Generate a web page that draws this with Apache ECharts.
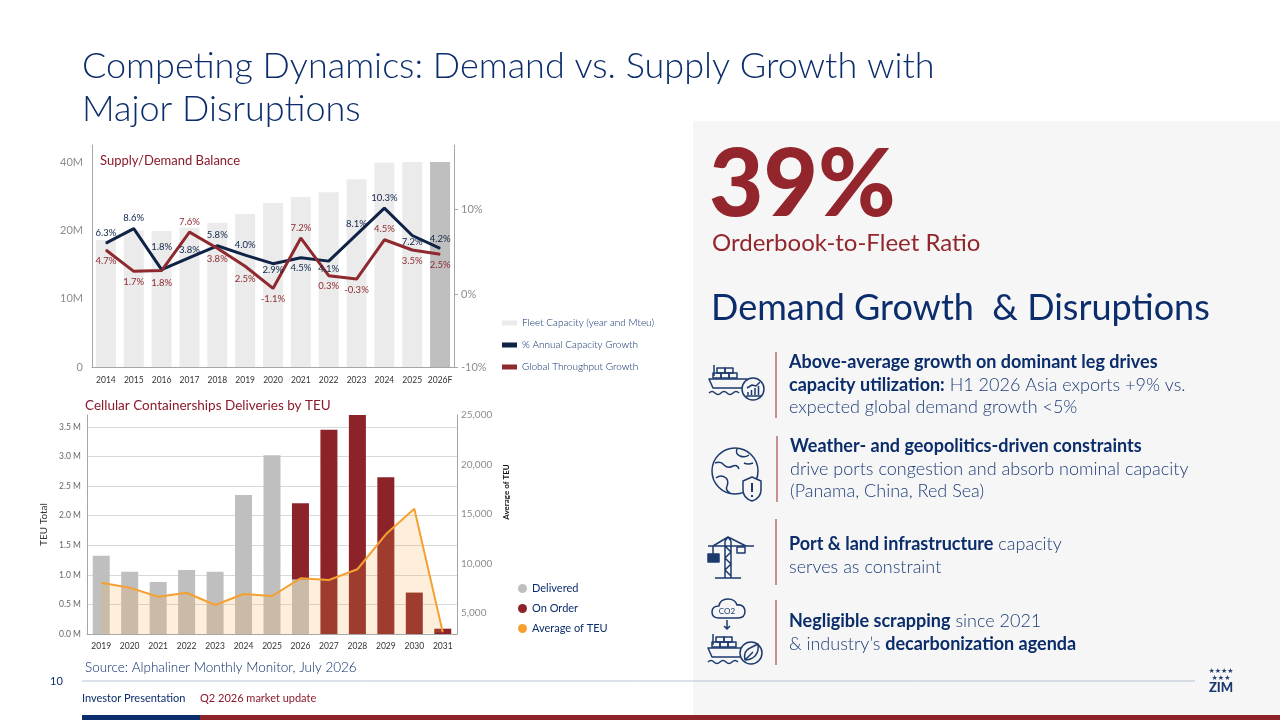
<!DOCTYPE html>
<html>
<head>
<meta charset="utf-8">
<title>Competing Dynamics</title>
<script src="https://cdn.jsdelivr.net/npm/echarts@6/dist/echarts.min.js"></script>
<style>
  html, body { margin: 0; padding: 0; background: #fff; }
  #slide { width: 1280px; height: 720px; }
</style>
</head>
<body>
<div id="slide"></div>
<script>
(function (window, echarts) {
    'use strict';

    // --- supply / demand balance (top chart) ---
    const fleetYears = ['2014', '2015', '2016', '2017', '2018', '2019', '2020', '2021', '2022', '2023', '2024', '2025', '2026F'];
    const fleetCapacity = [18.6, 20.0, 19.9, 20.4, 21.1, 22.4, 24.0, 24.9, 25.6, 27.5, 29.9, 30.0, 30.0];
    const capacityGrowth = [6.0, 7.7, 2.9, 4.3, 5.7, 4.6, 3.6, 4.3, 3.9, 7.0, 10.1, 6.9, 5.4];
    const capacityGrowthLabels = ['6.3%', '8.6%', '1.8%', '3.8%', '5.8%', '4.0%', '2.9%', '4.5%', '4.1%', '8.1%', '10.3%', '7.2%', '4.2%'];
    const throughputGrowth = [5.2, 2.7, 2.8, 7.3, 5.4, 3.3, 0.7, 6.6, 2.2, 1.8, 6.4, 5.2, 4.7];
    const throughputGrowthLabels = ['4.7%', '1.7%', '1.8%', '7.6%', '3.8%', '2.5%', '-1.1%', '7.2%', '0.3%', '-0.3%', '4.5%', '3.5%', '2.5%'];
    const fleetTicks = [0, 10, 20, 30];
    const fleetTickLabels = ['0', '10M', '20M', '40M'];
    const growthTicks = [-8.5, 0, 10];
    const growthTickLabels = ['-10%', '0%', '10%'];

    // --- cellular containership deliveries (bottom chart) ---
    const deliveryYears = ['2019', '2020', '2021', '2022', '2023', '2024', '2025', '2026', '2027', '2028', '2029', '2030', '2031'];
    const deliveredTeu = [1.32, 1.05, 0.88, 1.08, 1.05, 2.35, 3.02, 0.92, '-', '-', '-', '-', '-'];
    const onOrderTeu = ['-', '-', '-', '-', '-', '-', '-', 1.29, 3.45, 3.70, 2.65, 0.70, 0.09];
    const averageTeu = [8060, 7560, 6650, 7050, 5810, 6920, 6720, 8500, 8330, 9420, 12950, 15540, 3050];
    const averageTicks = [5000, 10000, 15000, 20000, 25000];

    const NAVY = '#0b2d6b';
    const DARK_NAVY = '#0f2346';
    const RED = '#8e2a2f';
    const FONT = 'Lato, "Open Sans", sans-serif';

    // label placement for the two growth lines (position, gap in px)
    const blueLabelPos = ['top', 'top', 'top', 'top', 'top', 'top', 'bottom', 'bottom', 'bottom', 'top', 'top', 'bottom', 'top'];
    const blueLabelGap = [5, 5, 17, 2, 5, 5, 1, 5, 2, 5, 5, 1, 4];
    const redLabelPos = ['bottom', 'bottom', 'bottom', 'top', 'bottom', 'bottom', 'bottom', 'top', 'bottom', 'bottom', 'top', 'bottom', 'bottom'];
    const redLabelGap = [5, 5, 7, 5, 5, 7, 5, 5, 5, 5, 5, 5, 5];

    const chart = echarts.init(document.getElementById('slide'));

    function txt(x, y, text, size, color, weight, align) {
        return {
            type: 'text', x: x, y: y, z: 10,
            style: {
                text: text, fill: color, fontSize: size, fontFamily: FONT,
                fontWeight: weight || 400, verticalAlign: 'middle', align: align || 'left'
            }
        };
    }

    function bullet(x, y, lines) {
        const rich = {
            b: {fontWeight: 700, fontSize: 18, fill: NAVY, fontFamily: FONT, lineHeight: 22.5},
            r: {fontWeight: 300, fontSize: 18, fill: '#1d3c78', fontFamily: FONT, lineHeight: 22.5}
        };
        return {
            type: 'text', x: x, y: y, z: 10,
            style: {text: lines.join('\n'), fill: NAVY, fontFamily: FONT, fontSize: 18, lineHeight: 22.5, verticalAlign: 'top', rich: rich}
        };
    }

    function vbar(x, y1, y2) {
        return {type: 'line', z: 10, shape: {x1: x, y1: y1, x2: x, y2: y2}, style: {stroke: '#9b2a30', lineWidth: 1}};
    }

    // simple outline icons as inline svg
    const SHIP = "<path d='M7 3 v11'/><rect x='10' y='6' width='8' height='5'/><rect x='18' y='6' width='8' height='5'/>" +
        "<rect x='6' y='11' width='8' height='5'/><rect x='14' y='11' width='8' height='5'/><rect x='22' y='11' width='8' height='5'/>" +
        "<path d='M2 17 h38 l-4 9 h-30 z'/><path d='M2 31 q3 -3 6 0 t6 0 t6 0 t6 0 t6 0'/>";
    const ICONS = [
        {x: 707, y: 362, w: 60, h: 40, body: SHIP +
            "<circle cx='46' cy='27' r='11' fill='#f6f6f6'/><path d='M41 33 v-3 M44.5 33 v-5 M48 33 v-7 M51.5 33 v-9 M39 34 h15 M40 26 l5 -3 l4 1 l4 -4'/>"},
        {x: 710, y: 446, w: 56, h: 56, body:
            "<circle cx='25' cy='25' r='23'/><path d='M5 17 q6 -2 9 2 q4 4 9 1 q4 -2 6 3 M6 32 q5 -4 10 0 q3 3 1 8 q-2 4 3 7 M27 3 q-2 5 3 7 q5 2 9 -1 M34 17 q4 2 9 0'/>" +
            "<path d='M33 35 L42 31 L51 35 L51 44 Q51 52 42 55 Q33 52 33 44 Z' fill='#f6f6f6'/><path d='M42 37 v9 M42 49 v2' stroke-width='2'/>"},
        {x: 706, y: 535, w: 50, h: 46, body:
            "<path d='M19 6 v37 M25 6 v37 M19 11 l6 6 l-6 6 l6 6 l-6 6 l6 6 M2 11 h46 M19 6 l3 -4 l3 4 M7 11 l15 -9 l18 9 M7 11 v8 M9 43 h26'/>" +
            "<rect x='2' y='19' width='11' height='8' fill='#1c3a6e'/><rect x='31' y='12' width='8' height='6'/>"},
        {x: 706, y: 598, w: 60, h: 68, body:
            "<path d='M13 20 q-7 0 -7 -6 q0 -6 7 -6 q1 -7 9 -7 q7 0 9 6 q7 -1 8 6 q0 7 -7 7 z'/>" +
            "<text x='21' y='16' font-size='8' font-family='Lato' fill='#1c3a6e' stroke='none' text-anchor='middle'>CO2</text>" +
            "<path d='M21 22 v9 M18 28 l3 3 l3 -3'/>" +
            "<g transform='translate(0,33)'>" + SHIP + "</g>" +
            "<circle cx='45' cy='55' r='11' fill='#f6f6f6'/><path d='M39 62 q-2 -9 5 -12 q4 -2 8 -4 q1 8 -3 12 q-4 4 -10 4 M39 62 l8 -8'/>"}
    ];

    function iconImage(icon) {
        const svg = "<svg xmlns='http://www.w3.org/2000/svg' width='" + icon.w + "' height='" + icon.h + "' viewBox='0 0 " + icon.w + ' ' + icon.h + "'>" +
            "<g fill='none' stroke='#1c3a6e' stroke-width='1.5' stroke-linejoin='round'>" + icon.body + '</g></svg>';
        return {
            type: 'image', z: 10, x: icon.x, y: icon.y,
            style: {image: 'data:image/svg+xml;charset=utf-8,' + encodeURIComponent(svg), width: icon.w, height: icon.h}
        };
    }

    const graphics = [
        // right panel background
        {type: 'rect', z: -10, shape: {x: 693, y: 121, width: 587, height: 599}, style: {fill: '#f6f6f6'}},
        // title
        txt(82, 66, 'Competing Dynamics: Demand vs. Supply Growth with', 36, NAVY, 300),
        txt(82, 109, 'Major Disruptions', 36, NAVY, 300),
        // chart titles
        txt(100, 161, 'Supply/Demand Balance', 13, '#8b1a2b', 400),
        txt(85, 406, 'Cellular Containerships Deliveries by TEU', 13.5, '#8b1a2b', 400),
        {type: 'text', z: 10, x: 506, y: 492, rotation: Math.PI / 2,
            style: {text: 'Average of TEU', fill: '#111', fontSize: 8, fontWeight: 700, fontFamily: FONT, align: 'center', verticalAlign: 'middle'}},
        // right panel texts
        {type: 'text', z: 10, x: 709, y: 186, style: {text: '39%', fill: '#93262c', fontSize: 94, fontWeight: 900, fontFamily: FONT, verticalAlign: 'middle', letterSpacing: 6}},
        txt(712, 243, 'Orderbook-to-Fleet Ratio', 24, '#93262c', 400),
        txt(711, 308, 'Demand Growth  & Disruptions', 36, NAVY, 400),
        vbar(776, 352, 418),
        bullet(789, 351, ['{b|Above-average growth on dominant leg drives}', '{b|capacity utilization:}{r| H1 2026 Asia exports +9% vs.}', '{r|expected global demand growth <5%}']),
        vbar(777, 436, 502),
        bullet(790, 435, ['{b|Weather- and geopolitics-driven constraints}', '{r|drive ports congestion and absorb nominal capacity}', '{r|(Panama, China, Red Sea)}']),
        vbar(776, 519, 585),
        bullet(789, 533, ['{b|Port & land infrastructure}{r| capacity}', '{r|serves as constraint}']),
        vbar(776, 600, 665),
        bullet(789, 610, ['{b|Negligible scrapping}{r| since 2021}', '{r|& industry\u2019s }{b|decarbonization agenda}']),
        // footer
        txt(85, 668, 'Source: Alphaliner Monthly Monitor, July 2026', 13.5, NAVY, 300),
        txt(50, 681, '10', 11, NAVY, 400),
        {type: 'line', z: 5, shape: {x1: 82, y1: 681, x2: 1195, y2: 681}, style: {stroke: '#b7c2d4', lineWidth: 1}},
        txt(82, 698, 'Investor Presentation', 11, NAVY, 400),
        txt(200, 698, 'Q2 2026 market update', 11, '#8b1a2b', 400),
        {type: 'rect', z: 10, shape: {x: 82, y: 715, width: 118, height: 5}, style: {fill: '#0b2d6b'}},
        {type: 'rect', z: 10, shape: {x: 200, y: 715, width: 1080, height: 5}, style: {fill: '#8b2329'}},
        // ZIM logo
        {type: 'text', z: 10, x: 1221, y: 671, style: {text: '\u2605\u2605\u2605\u2605', fill: '#1c3a6e', fontSize: 7, fontFamily: 'DejaVu Sans', align: 'center', verticalAlign: 'middle'}},
        {type: 'text', z: 10, x: 1221, y: 678, style: {text: '\u2605\u2605\u2605', fill: '#1c3a6e', fontSize: 7, fontFamily: 'DejaVu Sans', align: 'center', verticalAlign: 'middle'}},
        txt(1221, 688, 'ZIM', 13, '#1c3a6e', 900, 'center')
    ].concat(ICONS.map(iconImage));

    const axisGray = '#a6a6a6';

    function growthLine(name, values, labels, positions, gaps, color) {
        return {
            name: name, type: 'line', xAxisIndex: 0, yAxisIndex: 1,
            symbol: 'circle', symbolSize: 1, showSymbol: true,
            lineStyle: {color: color, width: 3}, itemStyle: {color: color},
            label: {
                show: true, color: color, fontSize: 9.5,
                formatter: function (p) { return labels[p.dataIndex]; }
            },
            labelLayout: {hideOverlap: false},
            data: values.map(function (v, i) {
                return {value: v, label: {position: positions[i], distance: gaps[i]}};
            })
        };
    }

    const option = {
        backgroundColor: '#ffffff',
        textStyle: {fontFamily: FONT},
        animation: false,
        graphic: {elements: graphics},
        legend: [
            {
                orient: 'vertical', left: 497, top: 313, itemGap: 12, itemWidth: 15, itemHeight: 5,
                icon: 'rect',
                textStyle: {color: NAVY, fontSize: 10, fontFamily: FONT, fontWeight: 300},
                data: ['Fleet Capacity (year and Mteu)', '% Annual Capacity Growth', 'Global Throughput Growth']
            },
            {
                orient: 'vertical', left: 513, top: 578, itemGap: 9, itemWidth: 9, itemHeight: 9,
                icon: 'circle',
                textStyle: {color: NAVY, fontSize: 11, fontFamily: FONT},
                data: ['Delivered', 'On Order', 'Average of TEU']
            }
        ],
        grid: [
            {left: 92, top: 145, width: 362, height: 222},
            {left: 87, top: 415, width: 370, height: 219}
        ],
        xAxis: [
            {
                type: 'category', gridIndex: 0, data: fleetYears,
                axisLine: {lineStyle: {color: axisGray}}, axisTick: {show: false},
                axisLabel: {color: '#333', fontSize: 8.5, margin: 9, interval: 0}
            },
            {
                type: 'category', gridIndex: 1, data: deliveryYears,
                axisLine: {lineStyle: {color: axisGray}}, axisTick: {show: false},
                axisLabel: {color: '#333', fontSize: 8.5, margin: 8, interval: 0}
            }
        ],
        yAxis: [
            {
                type: 'value', gridIndex: 0, min: 0, max: 32.5,
                axisLine: {show: true, lineStyle: {color: axisGray}}, axisTick: {show: false},
                splitLine: {show: false},
                axisLabel: {
                    color: '#8c8c8c', fontSize: 11, margin: 9,
                    customValues: fleetTicks,
                    formatter: function (v) { return fleetTickLabels[fleetTicks.indexOf(v)]; }
                }
            },
            {
                type: 'value', gridIndex: 0, position: 'right', min: -8.5, max: 17.5,
                axisLine: {show: true, lineStyle: {color: axisGray}},
                axisTick: {show: true, length: 4, lineStyle: {color: axisGray}, customValues: growthTicks},
                splitLine: {show: false},
                axisLabel: {
                    color: '#8c8c8c', fontSize: 11, margin: 7,
                    customValues: growthTicks,
                    formatter: function (v) { return growthTickLabels[growthTicks.indexOf(v)]; }
                }
            },
            {
                type: 'value', gridIndex: 1, min: 0, max: 3.7, interval: 0.5,
                name: 'TEU Total', nameLocation: 'middle', nameGap: 38,
                nameTextStyle: {color: '#333', fontSize: 10},
                axisLine: {show: true, lineStyle: {color: axisGray}}, axisTick: {show: false},
                splitLine: {show: true, showMaxLine: false, lineStyle: {color: '#d9d9d9'}},
                axisLabel: {
                    color: '#666', fontSize: 8.5, margin: 6, showMaxLabel: false,
                    formatter: function (v) { return v.toFixed(1) + ' M'; }
                }
            },
            {
                type: 'value', gridIndex: 1, position: 'right', min: 2880, max: 25000,
                axisLine: {show: true, lineStyle: {color: axisGray}}, axisTick: {show: false},
                splitLine: {show: false},
                axisLabel: {
                    color: '#8c8c8c', fontSize: 10, margin: 4,
                    customValues: averageTicks,
                    formatter: function (v) { return v.toLocaleString('en-US'); }
                }
            }
        ],
        series: [
            {
                name: 'Fleet Capacity (year and Mteu)', type: 'bar', xAxisIndex: 0, yAxisIndex: 0,
                barWidth: 20, itemStyle: {color: '#ebebeb'},
                data: fleetCapacity.map(function (v, i) {
                    return i === fleetCapacity.length - 1 ? {value: v, itemStyle: {color: '#bfbfbf'}} : v;
                })
            },
            growthLine('% Annual Capacity Growth', capacityGrowth, capacityGrowthLabels, blueLabelPos, blueLabelGap, DARK_NAVY),
            growthLine('Global Throughput Growth', throughputGrowth, throughputGrowthLabels, redLabelPos, redLabelGap, RED),
            {
                name: 'Delivered', type: 'bar', xAxisIndex: 1, yAxisIndex: 2, stack: 'teu',
                barWidth: 17, itemStyle: {color: '#bfbfbf'}, data: deliveredTeu
            },
            {
                name: 'On Order', type: 'bar', xAxisIndex: 1, yAxisIndex: 2, stack: 'teu',
                barWidth: 17, itemStyle: {color: '#8b2329'}, data: onOrderTeu
            },
            {
                name: 'Average of TEU', type: 'line', xAxisIndex: 1, yAxisIndex: 3,
                symbol: 'none', z: 3,
                lineStyle: {color: '#f5a031', width: 2}, itemStyle: {color: '#f5a031'},
                areaStyle: {color: 'rgba(247,172,64,0.27)', origin: 'start'},
                data: averageTeu
            }
        ]
    };

    chart.setOption(option);

})(window, echarts);
</script>
</body>
</html>
